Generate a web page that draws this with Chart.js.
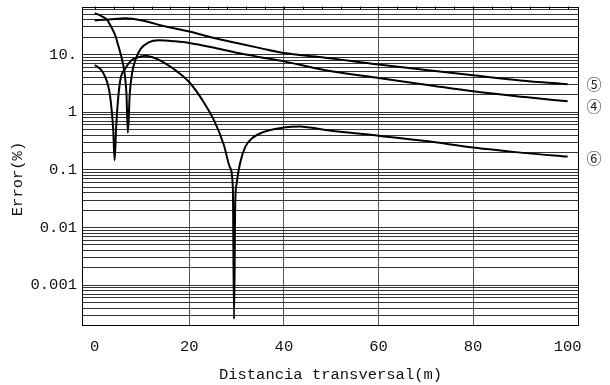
<!DOCTYPE html>
<html>
<head>
<meta charset="utf-8">
<script src="https://cdn.jsdelivr.net/npm/chart.js@4"></script>
<style>
  html, body { margin: 0; padding: 0; background: #fff; }
  #wrap { width: 610px; height: 385px; }
</style>
</head>
<body>
<div id="wrap"><canvas id="chartError"></canvas></div>
<script>
// axis ticks
const xTicks = [0, 20, 40, 60, 80, 100];
const yMajor = [0.001, 0.01, 0.1, 1, 10];
const yTickLabels = ['0.001', '0.01', '0.1', '1', '10.'];

// curve 5
const x5 = [0, 3, 6.5, 10, 15, 20, 25, 30, 35, 40, 48, 60, 70, 80, 90, 100];
const y5 = [39, 40.5, 42.5, 39, 30.5, 25, 19.5, 15.8, 12.9, 10.6, 9.0, 6.7, 5.4, 4.36, 3.55, 3.05];

// curve 4
const x4 = [0, 1.5, 2.6, 3.5, 4.4, 5.0, 5.6, 6.3, 6.7, 7.0, 7.4, 7.9, 8.6, 9.7, 11.4, 13.5, 17, 20, 25.5, 30.4, 35, 40, 48, 60, 70, 80, 91, 100];
const y4 = [52, 46, 40, 30, 20.7, 14, 9.3, 4.8, 2.1, 0.44, 2.1, 4.8, 8.1, 12.5, 16.3, 17.6, 16.9, 15.9, 13.0, 10.6, 9.0, 7.6, 5.5, 3.9, 3.0, 2.3, 1.83, 1.54];

// curve 6
const x6 = [0, 1.6, 3.0, 3.5, 3.9, 4.2, 4.5, 4.8, 5.4, 6.5, 7.9, 10, 10.7, 12.5, 14.2, 17.8, 20, 22.7, 25.3, 27.3, 28.6, 29.2, 29.45, 29.7, 30, 30.7, 31.8, 33.2, 35.6, 39.9, 43.4, 45.5, 49.7, 60, 70, 80, 86.3, 91.3, 100];
const y6 = [6.6, 5.1, 2.5, 1.25, 0.5, 0.146, 0.5, 1.25, 3.6, 5.8, 8.1, 9.3, 9.55, 8.8, 7.6, 4.8, 3.3, 1.65, 0.7, 0.27, 0.11, 0.05, 0.00026, 0.025, 0.058, 0.128, 0.248, 0.35, 0.45, 0.54, 0.565, 0.54, 0.48, 0.39, 0.315, 0.245, 0.215, 0.195, 0.17];

const seriesNames = ['⑤', '④', '⑥'];

const monoFont = "'Liberation Mono', 'Courier New', monospace";

function pts(xs, ys) {
  return xs.map((x, i) => ({ x: x, y: ys[i] }));
}

function isMajor(v) {
  return yMajor.some(m => Math.abs(v - m) / m < 1e-9);
}

// frame, y title and curve labels
const extras = {
  id: 'extras',
  afterDraw(chart) {
    const { ctx, chartArea: a } = chart;
    ctx.save();
    ctx.strokeStyle = '#000';
    ctx.lineWidth = 1;
    ctx.strokeRect(Math.round(a.left) + 0.5, Math.round(a.top) + 0.5,
      Math.round(a.right - a.left) - 1, Math.round(a.bottom - a.top) - 1);

    // small ticks on the top edge
    const xs = chart.scales.x;
    ctx.beginPath();
    for (let v = 0; v <= 100; v += 4) {
      const px = Math.round(xs.getPixelForValue(v)) + 0.5;
      ctx.moveTo(px, a.top);
      ctx.lineTo(px, a.top + 3);
    }
    ctx.stroke();

    ctx.fillStyle = '#111';
    ctx.font = '15.5px ' + monoFont;
    ctx.textAlign = 'center';
    ctx.textBaseline = 'middle';
    ctx.translate(18, 179);
    ctx.rotate(-Math.PI / 2);
    ctx.fillText('Error(%)', 0, 0);
    ctx.restore();

    // circled curve numbers beside the line ends
    const offs = [0, 5, 2];
    ctx.save();
    ctx.fillStyle = '#222';
    ctx.font = "15px 'Noto Sans CJK JP', 'DejaVu Sans'";
    ctx.textAlign = 'center';
    ctx.textBaseline = 'middle';
    chart.data.datasets.forEach((ds, i) => {
      const last = ds.data[ds.data.length - 1];
      const py = chart.scales.y.getPixelForValue(last.y);
      ctx.fillText(seriesNames[i], a.right + 15, py + offs[i]);
    });
    ctx.restore();
  }
};

const line = { borderColor: '#000', backgroundColor: '#000', borderWidth: 2, pointRadius: 0, cubicInterpolationMode: 'monotone', fill: false };

new Chart(document.getElementById('chartError'), {
  type: 'line',
  data: {
    datasets: [
      { label: seriesNames[0], data: pts(x5, y5), ...line },
      { label: seriesNames[1], data: pts(x4, y4), ...line },
      { label: seriesNames[2], data: pts(x6, y6), ...line }
    ]
  },
  options: {
    responsive: true,
    maintainAspectRatio: false,
    animation: false,
    layout: { padding: { left: 0, right: 31, top: 6.5, bottom: 0 } },
    plugins: { legend: { display: false }, tooltip: { enabled: false } },
    scales: {
      x: {
        type: 'linear',
        bounds: 'data',
        min: -2.7,
        max: 102.4,
        afterBuildTicks: s => { s.ticks = xTicks.map(v => ({ value: v })); },
        afterFit: s => { s.height = 59.5; s.paddingLeft = 0; s.paddingRight = 0; },
        border: { display: false },
        grid: {
          drawTicks: false,
          color: c => (c.tick && c.tick.value > 0 && c.tick.value < 100) ? '#555' : 'rgba(0,0,0,0)'
        },
        ticks: { color: '#111', padding: 12, maxRotation: 0, font: { family: monoFont, size: 15.5 } },
        title: { display: true, text: 'Distancia transversal(m)', color: '#111', padding: { top: 0, bottom: 1 }, font: { family: monoFont, size: 15.5 } }
      },
      y: {
        type: 'logarithmic',
        bounds: 'data',
        min: 0.0002,
        max: 68,
        afterBuildTicks: s => {
          const t = [];
          for (let k = -4; k <= 1; k++) {
            for (let m = 1; m <= 9; m++) {
              const v = parseFloat((m * Math.pow(10, k)).toPrecision(6));
              if (v >= s.min && v <= s.max) t.push({ value: v });
            }
          }
          s.ticks = t;
        },
        afterFit: s => { s.width = 82; s.paddingTop = 0; s.paddingBottom = 0; },
        border: { display: false },
        grid: { drawTicks: false, color: '#333' },
        ticks: {
          color: '#111',
          padding: 5,
          autoSkip: false,
          font: { family: monoFont, size: 15.5 },
          callback: v => isMajor(v) ? yTickLabels[yMajor.findIndex(m => Math.abs(v - m) / m < 1e-9)] : ''
        }
      }
    }
  },
  plugins: [extras]
});
</script>
</body>
</html>
